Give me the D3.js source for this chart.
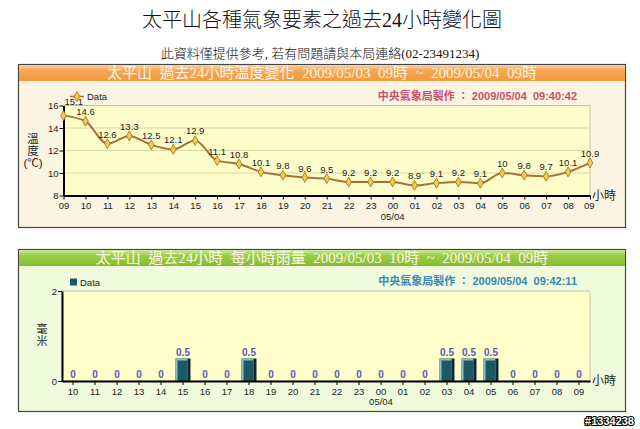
<!DOCTYPE html>
<html>
<head>
<meta charset="utf-8">
<script src="https://cdn.jsdelivr.net/npm/d3@7"></script>
<style>
  body { margin: 0; background: #fff; }
  svg { display: block; }
  text { white-space: pre; }
  .sans { font-family: "Liberation Sans", "Noto Sans CJK TC", sans-serif; }
  .serif { font-family: "Liberation Serif", "Noto Sans CJK TC", serif; }
</style>
</head>
<body>
<div id="chart"></div>
<script>
// --- DATA ---
var tempHours = ["09","10","11","12","13","14","15","16","17","18","19","20",
                 "21","22","23","00","01","02","03","04","05","06","07","08","09 "];
var tempValues = [15.1,14.6,12.6,13.3,12.5,12.1,12.9,11.1,10.8,10.1,9.8,9.6,
                  9.5,9.2,9.2,9.2,8.9,9.1,9.2,9.1,10,9.8,9.7,10.1,10.9];
var tempTicks = [8,10,12,14,16];

var rainHours = ["10","11","12","13","14","15","16","17","18","19","20","21",
                 "22","23","00","01","02","03","04","05","06","07","08","09"];
var rainValues = [0,0,0,0,0,0.5,0,0,0.5,0,0,0,
                  0,0,0,0,0,0.5,0.5,0.5,0,0,0,0];
var rainTicks = [0,2];

var W = 640, H = 429;
var svg = d3.select("#chart").append("svg").attr("width", W).attr("height", H);
var defs = svg.append("defs");

function vGrad(id, stops) {
    var g = defs.append("linearGradient").attr("id", id)
        .attr("x1", 0).attr("y1", 0).attr("x2", 0).attr("y2", 1);
    stops.forEach(function(s) {
        g.append("stop").attr("offset", s[0]).attr("stop-color", s[1]);
    });
}
vGrad("gOrange", [[0, "#fcd2a4"], [0.35, "#f6a552"], [1, "#f19a40"]]);
vGrad("gGreen", [[0, "#cfe89a"], [0.35, "#9ccc48"], [1, "#86bd2c"]]);

// --- PAGE TITLES ---
svg.append("text").attr("class", "serif")
    .attr("x", 322).attr("y", 27).attr("text-anchor", "middle")
    .style("font-size", "20px").style("font-weight", "300").attr("fill", "#111")
    .text("太平山各種氣象要素之過去24小時變化圖");
svg.append("text").attr("class", "serif")
    .attr("x", 320).attr("y", 58).attr("text-anchor", "middle")
    .style("font-size", "13px").style("font-weight", "300").attr("fill", "#111")
    .text("此資料僅提供參考, 若有問題請與本局連絡(02-23491234)");

// --- PANEL FRAME ---
function panel(top, bottom, bg, grad, title, credit, creditColor) {
    svg.append("rect").attr("x", 18.5).attr("y", top + 0.5)
        .attr("width", 607).attr("height", bottom - top)
        .attr("fill", bg).attr("stroke", "#444").attr("stroke-width", 1.2);
    svg.append("rect").attr("x", 19).attr("y", top + 1)
        .attr("width", 606).attr("height", 16)
        .attr("fill", "url(#" + grad + ")");
    svg.append("text").attr("class", "serif")
        .attr("x", 322).attr("y", top + 14).attr("text-anchor", "middle")
        .style("font-size", "15px").attr("fill", "#fff6e8")
        .text(title);
    svg.append("text").attr("class", "sans")
        .attr("x", 577).attr("y", top + 36).attr("text-anchor", "end")
        .style("font-size", "11px").style("font-weight", "bold")
        .attr("fill", creditColor)
        .text(credit);
}

panel(64, 227, "#fcf4e2", "gOrange",
    "太平山  過去24小時溫度變化  2009/05/03  09時  ~  2009/05/04  09時",
    "中央氣象局製作 ： 2009/05/04  09:40:42", "#c8506e");
panel(249, 411, "#effbdc", "gGreen",
    "太平山  過去24小時  每小時雨量  2009/05/03  10時  ~  2009/05/04  09時",
    "中央氣象局製作 ： 2009/05/04  09:42:11", "#3888b8");

function styleAxis(g) {
    g.selectAll(".domain").attr("stroke", "#000").attr("stroke-width", 2);
    g.selectAll(".tick line").attr("stroke", "#000");
    g.selectAll(".tick text").attr("class", "sans")
        .style("font-size", "9.5px").attr("fill", "#222");
}

function vertTitle(chars, x, y0, step, size) {
    chars.forEach(function(c, i) {
        svg.append("text").attr("class", "sans")
            .attr("x", x).attr("y", y0 + i * step).attr("text-anchor", "middle")
            .style("font-size", size).attr("fill", "#222").text(c);
    });
}

// --- TEMPERATURE CHART ---
var tx = d3.scalePoint().domain(tempHours).range([63.5, 590]);
var ty = d3.scaleLinear().domain([8, 16]).range([195.5, 105.5]);

svg.append("rect").attr("x", 63.5).attr("y", 105.5)
    .attr("width", 590 - 63.5).attr("height", 90)
    .attr("fill", "#fdfdc9").attr("stroke", "#c9c39a").attr("stroke-width", 1);

svg.append("g").selectAll("line").data(tempTicks.filter(function(t) { return t > 8 && t < 16; }))
    .enter().append("line")
    .attr("x1", 63.5).attr("x2", 590)
    .attr("y1", function(d) { return ty(d); }).attr("y2", function(d) { return ty(d); })
    .attr("stroke", "#d9d6a6").attr("stroke-width", 1);

var txAxis = svg.append("g").attr("transform", "translate(0,195.5)")
    .call(d3.axisBottom(tx).tickSize(4).tickPadding(3).tickSizeOuter(0));
styleAxis(txAxis);
var tyAxis = svg.append("g").attr("transform", "translate(63.5,0)")
    .call(d3.axisLeft(ty).tickValues(tempTicks).tickSize(4).tickPadding(1).tickSizeOuter(0));
styleAxis(tyAxis);

var line = d3.line()
    .x(function(d, i) { return tx(tempHours[i]); })
    .y(function(d) { return ty(d); })
    .curve(d3.curveMonotoneX);
svg.append("path").datum(tempValues).attr("d", line)
    .attr("fill", "none").attr("stroke", "#a8703a").attr("stroke-width", 2);

var diamond = d3.symbol().type(d3.symbolDiamond).size(28);
svg.append("g").selectAll("path").data(tempValues).enter().append("path")
    .attr("d", diamond)
    .attr("transform", function(d, i) { return "translate(" + tx(tempHours[i]) + "," + ty(d) + ")"; })
    .attr("fill", "#ecd04c").attr("stroke", "#9a6a20").attr("stroke-width", 0.8);

svg.append("g").selectAll("text").data(tempValues).enter().append("text")
    .attr("class", "sans")
    .attr("x", function(d, i) { return tx(tempHours[i]) + (i === 0 ? 1 : 0); })
    .attr("y", function(d, i) { return ty(d) - (i === 0 ? 11 : 6); })
    .attr("text-anchor", function(d, i) { return i === 0 ? "start" : "middle"; })
    .style("font-size", "9.5px").attr("fill", "#222")
    .text(function(d) { return d; });

svg.append("text").attr("class", "sans").attr("x", tx("00")).attr("y", 220)
    .attr("text-anchor", "middle").style("font-size", "9.5px").attr("fill", "#222").text("05/04");
svg.append("text").attr("class", "sans").attr("x", 592).attr("y", 200)
    .style("font-size", "12px").attr("fill", "#222").text("小時");

// legend
svg.append("line").attr("x1", 70).attr("x2", 84).attr("y1", 96.5).attr("y2", 96.5)
    .attr("stroke", "#a8703a").attr("stroke-width", 1.5);
svg.append("path").attr("d", diamond).attr("transform", "translate(77,96.5)")
    .attr("fill", "#ecd04c").attr("stroke", "#9a6a20").attr("stroke-width", 0.8);
svg.append("text").attr("class", "sans").attr("x", 87).attr("y", 100)
    .style("font-size", "9.5px").attr("fill", "#222").text("Data");

// y title
vertTitle(["溫", "度", "(℃)"], 33, 143, 12, "11.5px");

// --- RAIN CHART ---
var rx = d3.scaleBand().domain(rainHours).range([62, 590]).paddingInner(0.32).paddingOuter(0.16);
var ry = d3.scaleLinear().domain([0, 2]).range([381, 291]);

svg.append("rect").attr("x", 62).attr("y", 291)
    .attr("width", 590 - 62).attr("height", 90)
    .attr("fill", "#fefecb").attr("stroke", "#c9c39a").attr("stroke-width", 1);

var barG = svg.append("g");
rainValues.forEach(function(v, i) {
    if (v <= 0) return;
    var x0 = rx(rainHours[i]), bw = rx.bandwidth();
    var y0 = ry(v), h = ry(0) - ry(v);
    barG.append("rect").attr("x", x0).attr("y", y0).attr("width", bw).attr("height", h)
        .attr("fill", "#0f2a2e");
    barG.append("rect").attr("x", x0).attr("y", y0).attr("width", bw - 3).attr("height", h)
        .attr("fill", "#8fbcbf");
    barG.append("rect").attr("x", x0 + 2).attr("y", y0 + 2).attr("width", bw - 5).attr("height", h - 2)
        .attr("fill", "#1e5963");
});

svg.append("g").selectAll("text").data(rainValues).enter().append("text")
    .attr("class", "sans")
    .attr("x", function(d, i) { return rx(rainHours[i]) + rx.bandwidth() / 2; })
    .attr("y", function(d) { return ry(d) - 3; })
    .attr("text-anchor", "middle")
    .style("font-size", "10px").style("font-weight", "bold").attr("fill", "#5a58b4")
    .text(function(d) { return d; });

var rxAxis = svg.append("g").attr("transform", "translate(0,381)")
    .call(d3.axisBottom(rx).tickSize(4).tickPadding(3).tickSizeOuter(0));
styleAxis(rxAxis);
var ryAxis = svg.append("g").attr("transform", "translate(62,0)")
    .call(d3.axisLeft(ry).tickValues(rainTicks).tickFormat(d3.format("d"))
        .tickSize(4).tickPadding(1).tickSizeOuter(0));
styleAxis(ryAxis);

svg.append("text").attr("class", "sans").attr("x", rx("00") + rx.bandwidth() / 2).attr("y", 405)
    .attr("text-anchor", "middle").style("font-size", "9.5px").attr("fill", "#222").text("05/04");
svg.append("text").attr("class", "sans").attr("x", 592).attr("y", 385)
    .style("font-size", "12px").attr("fill", "#222").text("小時");

// legend
svg.append("rect").attr("x", 70).attr("y", 278.5).attr("width", 7).attr("height", 7)
    .attr("fill", "#1e5963");
svg.append("text").attr("class", "sans").attr("x", 80).attr("y", 285.5)
    .style("font-size", "9.5px").attr("fill", "#222").text("Data");

// y title
vertTitle(["毫", "米"], 42, 333, 12, "11px");

// --- WATERMARK ---
svg.append("text").attr("class", "sans").attr("x", 634).attr("y", 425)
    .attr("text-anchor", "end").style("font-size", "11px").style("font-weight", "bold")
    .attr("fill", "#fff").attr("stroke", "#000").attr("stroke-width", 2.2)
    .attr("paint-order", "stroke").text("#1334238");
</script>
</body>
</html>
